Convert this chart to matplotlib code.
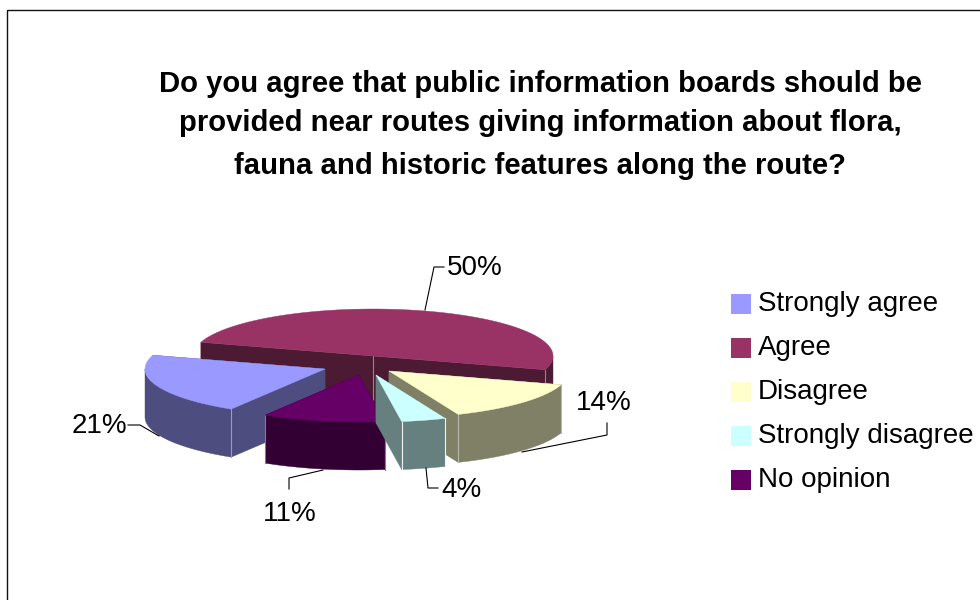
import numpy as np
import matplotlib
matplotlib.use("Agg")
import matplotlib.pyplot as plt
from matplotlib.patches import Polygon, Rectangle

# chart data
categories = ["Strongly agree", "Agree", "Disagree", "Strongly disagree", "No opinion"]
percents = [21, 50, 14, 4, 11]
title_lines = [
    "Do you agree that public information boards should be",
    "provided near routes giving information about flora,",
    "fauna and historic features along the route?",
]

# colours, top of the slice and its wall
top_colors = ["#9999FF", "#993366", "#FFFFCC", "#CCFFFF", "#660066"]
side_colors = ["#4D4D80", "#4C1A33", "#808066", "#668080", "#330033"]

# pie layout in pixels
rx = 180
ry = 47
depth = 48
start_angle = 163 + 75.6  # first slice starts here, goes clockwise
centers = [(325, 369), (373, 356), (389, 371), (376, 375), (359, 375)]
draw_order = [1, 0, 2, 4, 3]

# label text anchor and leader line for each slice
label_pos = [(99, 426), (475, 268), (604, 403), (461, 490), (290, 514)]
leaders = [
    [(128, 425), (140, 425), (159, 436)],
    [(425, 310), (434, 267), (444, 267)],
    [(522, 452), (607, 435), (607, 423)],
    [(426, 468), (428, 488), (438, 488)],
    [(323, 470), (289, 478), (289, 489)],
]

plt.rcParams["font.family"] = ["Liberation Sans", "DejaVu Sans"]

fig = plt.figure(figsize=(9.8, 6), dpi=100)
ax = fig.add_axes([0, 0, 1, 1])
ax.set_xlim(0, 980)
ax.set_ylim(600, 0)
ax.axis("off")

# chart area border, runs off the right and bottom of the image
ax.add_patch(Rectangle((7, 10), 990, 610, fill=False, ec="#111111", lw=1.0))


def point(cx, cy, deg):
    a = np.radians(deg)
    return cx + rx * np.cos(a), cy - ry * np.sin(a)


def mix_white(col, amount):
    rgb = np.array(matplotlib.colors.to_rgb(col))
    return tuple(rgb + (1 - rgb) * amount)


def draw_slice(i, a1, a2):
    # a1 > a2, clockwise
    cx, cy = centers[i]
    angles = np.linspace(a1, a2, 200)
    xs, ys = point(cx, cy, angles)
    top = np.column_stack([np.r_[cx, xs], np.r_[cy, ys]])

    # cut faces first, back one before front one
    p1 = point(cx, cy, a1)
    p2 = point(cx, cy, a2)
    faces = sorted([p1, p2], key=lambda p: p[1])
    for p in faces:
        wall = [(cx, cy), p, (p[0], p[1] + depth), (cx, cy + depth)]
        ax.add_patch(Polygon(wall, fc=side_colors[i], ec=side_colors[i], lw=0.3, zorder=2))

    # outer rim, only the part facing us
    front = np.sin(np.radians(angles)) < 0
    if front.any():
        fx, fy = xs[front], ys[front]
        rim = np.column_stack([np.r_[fx, fx[::-1]], np.r_[fy, fy[::-1] + depth]])
        ax.add_patch(Polygon(rim, fc=side_colors[i], ec=side_colors[i], lw=0.3, zorder=2))

    # light edges down the corners
    edge = mix_white(side_colors[i], 0.9 if i == 3 else 0.45)
    for p in (p1, p2):
        if p[1] > cy - 1:
            ax.plot([p[0], p[0]], [p[1], p[1] + depth], color=edge, lw=0.8, zorder=2)
    if i == 1:
        ax.plot([cx, cx], [cy, cy + depth], color=edge, lw=0.8, zorder=2)

    ax.add_patch(Polygon(top, fc=top_colors[i], ec=top_colors[i], lw=0.3, zorder=2))


# slice angles come from the values
sweeps = np.array(percents) / sum(percents) * 360
ends = start_angle - np.cumsum(sweeps)
starts = np.r_[start_angle, ends[:-1]]

for i in draw_order:
    draw_slice(i, starts[i], ends[i])

for i, v in enumerate(percents):
    ax.text(label_pos[i][0], label_pos[i][1], f"{v}%", fontsize=20, ha="center", va="center",
            color="black", zorder=5)
    xs, ys = zip(*leaders[i])
    ax.plot(xs, ys, color="black", lw=0.8, zorder=1 if i == 1 else 4)

# title
for y, line in zip([84, 123, 166], title_lines):
    ax.text(540, y, line, fontsize=21.1, fontweight="bold", ha="center", va="center", color="black")

# legend
for i, name in enumerate(categories):
    y = 294 + 44 * i
    ax.add_patch(Rectangle((731, y), 20, 20, fc=top_colors[i], ec="none"))
    ax.text(758, y + 10, name, fontsize=20, ha="left", va="center", color="black")

fig.savefig("out.png", dpi=100)
